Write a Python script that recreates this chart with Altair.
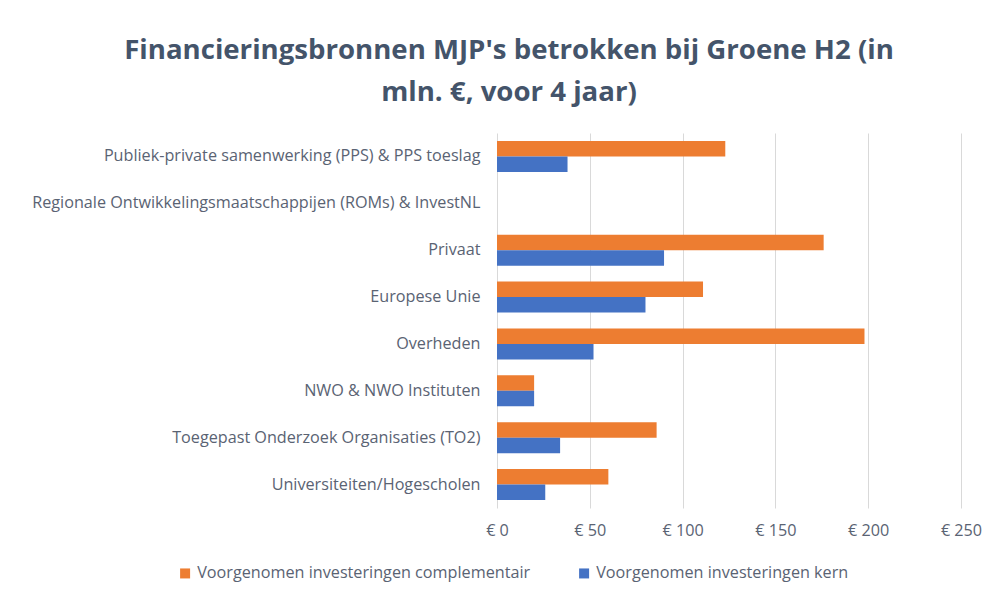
import altair as alt
import pandas as pd

categories = [
    "Publiek-private samenwerking (PPS) & PPS toeslag",
    "Regionale Ontwikkelingsmaatschappijen (ROMs) & InvestNL",
    "Privaat",
    "Europese Unie",
    "Overheden",
    "NWO & NWO Instituten",
    "Toegepast Onderzoek Organisaties (TO2)",
    "Universiteiten/Hogescholen",
]
series_names = [
    "Voorgenomen investeringen complementair",
    "Voorgenomen investeringen kern",
]
complementair = [123, 0, 176, 111, 198, 20, 86, 60]
kern = [38, 0, 90, 80, 52, 20, 34, 26]
x_ticks = [0, 50, 100, 150, 200, 250]
colors = ["#ED7D31", "#4472C4"]

rows = []
for c, a, b in zip(categories, complementair, kern):
    rows.append({"cat": c, "serie": series_names[0], "val": a})
    rows.append({"cat": c, "serie": series_names[1], "val": b})
df = pd.DataFrame(rows)

label_color = "#5a6373"
font = "Open Sans"
fs = 16.2

chart = (
    alt.Chart(df)
    .mark_bar()
    .encode(
        y=alt.Y(
            "cat:N",
            sort=categories,
            title=None,
            scale=alt.Scale(paddingInner=0.34, paddingOuter=0.17),
            axis=alt.Axis(
                ticks=False,
                domain=False,
                labelFontSize=fs,
                labelColor=label_color,
                labelFont=font,
                labelPadding=17,
                labelLimit=600,
                grid=False,
            ),
        ),
        yOffset=alt.YOffset("serie:N", sort=series_names),
        x=alt.X(
            "val:Q",
            title=None,
            scale=alt.Scale(domain=[0, 250], nice=False),
            axis=alt.Axis(
                values=x_ticks,
                labelExpr="'€ ' + datum.value",
                ticks=False,
                domain=False,
                labelFlush=False,
                labelFontSize=fs,
                labelColor=label_color,
                labelFont=font,
                labelPadding=14,
                gridColor="#D9D9D9",
                gridWidth=1,
            ),
        ),
        color=alt.Color(
            "serie:N",
            sort=series_names,
            scale=alt.Scale(domain=series_names, range=colors),
            legend=alt.Legend(
                title=None,
                orient="none",
                legendX=-320,
                legendY=432,
                direction="horizontal",
                columns=2,
                columnPadding=45,
                symbolType="square",
                symbolSize=100,
                symbolStrokeWidth=0,
                labelFontSize=fs,
                labelColor=label_color,
                labelFont=font,
                labelLimit=0,
                labelOffset=4,
            ),
        ),
    )
    .properties(
        width=464,
        height=375,
        padding={"left": 489, "top": 125, "right": 30, "bottom": 80},
        autosize=alt.AutoSizeParams(type="none"),
        title=alt.TitleParams(
            text=["Financieringsbronnen MJP's betrokken bij Groene H2 (in", "mln. €, voor 4 jaar)"],
            font=font,
            fontSize=27.6,
            fontWeight="bold",
            color="#44546A",
            anchor="middle",
            dx=-220,
            offset=26,
            lineHeight=42,
        ),
    )
    .configure_view(stroke=None)
)

chart.save("out.html", embed_options={"renderer": "svg", "actions": False})
